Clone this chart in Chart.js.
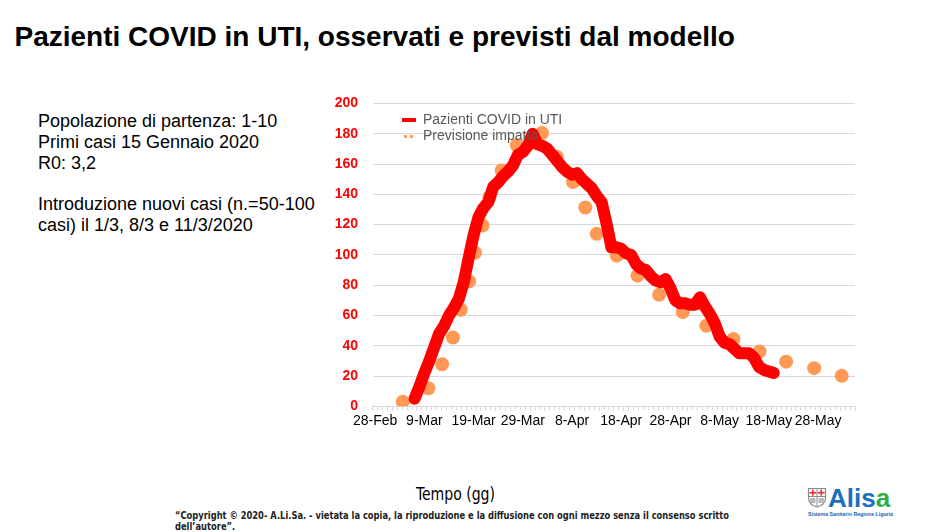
<!DOCTYPE html>
<html>
<head>
<meta charset="utf-8">
<script src="https://cdn.jsdelivr.net/npm/chart.js@4.4.1/dist/chart.umd.min.js"></script>
<style>
  html, body { margin:0; padding:0; background:#fff; }
  body { width:936px; height:532px; position:relative; overflow:hidden; font-family:"Liberation Sans", Arial, sans-serif; }
  #title { position:absolute; left:14.5px; top:21px; font-size:28px; line-height:32px; font-weight:bold; color:#000; white-space:nowrap; }
  #info { position:absolute; left:38px; top:111px; font-size:18px; line-height:20.8px; color:#000; white-space:nowrap; }
  #chartBox { position:absolute; left:330px; top:91px; width:540px; height:350px; }
  .leg { position:absolute; left:423px; font-size:14px; line-height:16px; color:#595959; white-space:nowrap; }
  #legSym1 { position:absolute; left:402px; top:118px; width:14px; height:4px; background:#FF0000; }
  .legDot { position:absolute; top:135px; width:3px; height:3px; background:#FF9955; }
  #xtitle { position:absolute; left:416px; top:484px; font-family:"Liberation Sans Narrow","DejaVu Sans Condensed",sans-serif; font-size:17px; line-height:20px; color:#000; white-space:nowrap; transform-origin:left top; }
  .copy { position:absolute; left:175px; font-family:"DejaVu Sans Condensed","DejaVu Sans",sans-serif; font-weight:bold; font-size:10px; line-height:11px; color:#222; white-space:nowrap; transform-origin:left top; }
  #logoText { position:absolute; left:828px; top:484px; font-size:26px; line-height:28px; font-weight:bold; white-space:nowrap; }
  #logoSub { position:absolute; left:808px; top:511px; font-size:5px; line-height:6px; font-weight:bold; color:#1B5FAA; white-space:nowrap; transform-origin:left top; }
  #shield { position:absolute; left:807px; top:487px; }
</style>
</head>
<body>
<div id="title">Pazienti COVID in UTI, osservati e previsti dal modello</div>
<div id="info">Popolazione di partenza: 1-10<br>Primi casi 15 Gennaio 2020<br>R0: 3,2<br><br>Introduzione nuovi casi (n.=50-100<br>casi) il 1/3, 8/3 e 11/3/2020</div>

<div id="chartBox"><canvas id="c"></canvas></div>

<div id="legSym1"></div>
<div class="legDot" style="left:404px"></div>
<div class="legDot" style="left:410px"></div>
<div class="leg" style="top:111px">Pazienti COVID in UTI</div>
<div class="leg" style="top:127px">Previsione impatto</div>

<div id="xtitle">Tempo (gg)</div>
<div class="copy" id="copy1" style="top:510px">“Copyright © 2020- A.Li.Sa. - vietata la copia, la riproduzione e la diffusione con ogni mezzo senza il consenso scritto</div>
<div class="copy" id="copy2" style="top:521px">dell’autore”.</div>

<svg id="shield" width="20" height="21" viewBox="0 0 20 21">
  <path d="M1.5 1.5 H18.5 V11 Q18.5 18 10 20 Q1.5 18 1.5 11 Z" fill="#fff" stroke="#8a8a8a" stroke-width="1.2"/>
  <line x1="10" y1="1.5" x2="10" y2="19.5" stroke="#8a8a8a" stroke-width="1"/>
  <line x1="1.5" y1="9.5" x2="18.5" y2="9.5" stroke="#8a8a8a" stroke-width="1"/>
  <rect x="5" y="2.5" width="1.6" height="6.2" fill="#E53030"/>
  <rect x="2.5" y="5" width="6.8" height="1.6" fill="#E53030"/>
  <rect x="13.4" y="2.5" width="1.6" height="6.2" fill="#E53030"/>
  <rect x="10.8" y="5" width="6.8" height="1.6" fill="#E53030"/>
  <rect x="3" y="11" width="5.5" height="5" fill="#b8b8b8"/>
  <rect x="11.5" y="11" width="5.5" height="5" fill="#b8b8b8"/>
</svg>
<div id="logoText"><span style="color:#1B6FC0">Alis</span><span style="color:#2DB04B">a</span></div>
<div id="logoSub">Sistema Sanitario Regione Liguria</div>

<script>
// ---- data ----
// x positions are days after 28-Feb-2020
const tickLabels = ['28-Feb','9-Mar','19-Mar','29-Mar','8-Apr','18-Apr','28-Apr','8-May','18-May','28-May'];
const yTickValues = [0,20,40,60,80,100,120,140,160,180,200];
const axisDays = 98;            // 28-Feb .. 4-Jun

const observedLabel = 'Pazienti COVID in UTI';
const observedStartDay = 8;     // 7-Mar
const observedValues = [5,13,22,30,39,48,53,60,65,71,82,98,113,125,131,135,145,148,152,155,
  159,166,168,172,180,173,172,170,166,162,158,155,153,154,150,147,144,139,135,121,
  105,105,104,101,100,94,91,90,86,83,82,84,78,70,68,68,67,67,72,66,
  61,55,46,42,41,38,35,35,35,32,26,24,23,22];

const predictedLabel = 'Previsione impatto';
const predictedDays = [5.6,10.8,13.6,15.8,17.4,19.1,20.3,21.8,23.2,25.7,28.8,33.9,36.9,40.2,42.7,45.0,
  49.1,53.3,57.7,62.5,67.3,72.8,78.1,83.5,89.2,94.8];
const predictedValues = [3.0,11.9,27.8,45.4,63.8,82.5,101.4,119.4,138.3,155.8,172.4,180.5,164.9,148.1,131.3,113.9,
  99.5,86.3,73.7,62.3,53.2,44.4,36.2,29.5,25.2,20.1];

// ---- build ----
const obsData = observedValues.map((v,i)=>({x: observedStartDay + i, y: v}));
const predData = predictedValues.map((v,i)=>({x: predictedDays[i], y: v}));

Chart.defaults.font.family = '"Liberation Sans", Arial, sans-serif';

const chart = new Chart(document.getElementById('c'), {
  type: 'scatter',
  data: {
    datasets: [
      { label: observedLabel, type: 'line', data: obsData, showLine: true,
        borderColor: '#FF0000', borderWidth: 12, tension: 0, pointRadius: 0,
        borderCapStyle: 'round', borderJoinStyle: 'round', fill: false, order: 0 },
      { label: predictedLabel, data: predData, showLine: false,
        pointRadius: 7, pointBackgroundColor: '#FF9955', pointBorderWidth: 0,
        backgroundColor: '#FF9955', order: 1 }
    ]
  },
  options: {
    responsive: true, maintainAspectRatio: false, animation: false,
    layout: { padding: { top: 12.5, right: 15, left: 0, bottom: 0 } },
    plugins: { legend: { display: false }, tooltip: { enabled: false } },
    scales: {
      x: {
        type: 'linear', min: -0.5, max: axisDays - 0.5,
        afterBuildTicks: (s) => {
          const t = [];
          for (let i = 0; i <= axisDays; i++) t.push({ value: i - 0.5 });
          s.ticks = t;
        },
        afterFit: (s) => { s.height = 34.7; s.paddingLeft = 0; s.paddingRight = 0; },
        grid: { drawOnChartArea: false, drawTicks: true, tickLength: 4, color: '#D9D9D9' },
        border: { display: true, color: '#D9D9D9' },
        ticks: {
          autoSkip: false, maxRotation: 0, minRotation: 0, padding: 2.5,
          labelOffset: 2.46,
          color: '#000', font: { size: 14 },
          callback: (v) => {
            const d = Math.round(v + 0.5);
            return (d % 10 === 0 && tickLabels[d / 10] !== undefined) ? tickLabels[d / 10] : '';
          }
        }
      },
      y: {
        min: 0, max: 200,
        afterBuildTicks: (s) => { s.ticks = yTickValues.map(v => ({ value: v })); },
        afterFit: (s) => { s.width = 42.7; s.paddingTop = 0; s.paddingBottom = 0; },
        grid: { color: '#D9D9D9', lineWidth: 1, drawTicks: false },
        border: { display: false },
        ticks: { color: '#FF0000', font: { size: 14, weight: 'bold' }, padding: 14.7 }
      }
    }
  }
});

// fit small narrow texts to their measured widths
function fitW(el, w) {
  const nat = el.getBoundingClientRect().width;
  const k = nat > 0 ? w / nat : 1;
  el.style.transform = 'scaleX(' + k + ')';
  return k;
}
fitW(document.getElementById('xtitle'), 79);
fitW(document.getElementById('logoSub'), 85);
const sc = fitW(document.getElementById('copy1'), 554);
document.getElementById('copy2').style.transform = 'scaleX(' + sc + ')';
</script>
</body>
</html>
